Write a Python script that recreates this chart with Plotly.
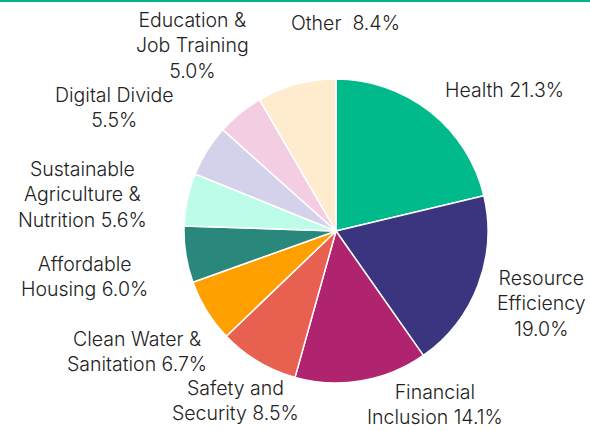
import plotly.graph_objects as go

categories = ["Health", "Resource Efficiency", "Financial Inclusion", "Safety and Security",
              "Clean Water & Sanitation", "Affordable Housing",
              "Sustainable Agriculture & Nutrition", "Digital Divide",
              "Education & Job Training", "Other"]
values = [21.3, 19.0, 14.1, 8.5, 6.7, 6.0, 5.6, 5.5, 5.0, 8.4]
label_texts = ["Health 21.3%", "Resource<br>Efficiency<br>19.0%", "Financial<br>Inclusion 14.1%",
               "Safety and<br>Security 8.5%", "Clean Water &<br>Sanitation 6.7%",
               "Affordable<br>Housing 6.0%", "Sustainable<br>Agriculture &<br>Nutrition 5.6%",
               "Digital Divide<br>5.5%", "Education &<br>Job Training<br>5.0%", "Other  8.4%"]
colors = ["#00BA8C", "#3B3580", "#B0246F", "#E8604F", "#FFA000",
          "#2A877C", "#BDFCE9", "#D4D1EB", "#F3CEE3", "#FFEBCD"]

# label centre positions in pixels (x, y from top)
label_pos = [(504, 90), (541, 303), (435, 404), (235, 400), (137, 351),
             (84, 276), (82, 194), (114, 108), (192, 46), (345, 23)]

W, H = 590, 431
MT = 2
PH = H - MT

fig = go.Figure(go.Pie(
    labels=categories, values=values, sort=False, direction="clockwise",
    marker=dict(colors=colors, line=dict(color="white", width=1.5)),
    textinfo="none", hoverinfo="label+percent", showlegend=False,
    domain=dict(x=[184 / W, 488 / W], y=[(H - 383) / PH, (H - 79) / PH]),
))

for txt, (px, py) in zip(label_texts, label_pos):
    fig.add_annotation(x=px / W, y=(H - py) / PH, xref="paper", yref="paper",
                       text=txt, showarrow=False, xanchor="center", yanchor="middle",
                       align="center",
                       font=dict(family="Inter", size=19.5, color="#222222", weight=300))

fig.add_shape(type="rect", xref="paper", yref="paper", x0=0, x1=1,
              y0=1, y1=1 + 2 / PH, fillcolor="#00B48A", line=dict(width=0))

fig.update_layout(width=W, height=H, margin=dict(l=0, r=0, t=MT, b=0),
                  paper_bgcolor="white", plot_bgcolor="white")
fig.write_html("out.html")
